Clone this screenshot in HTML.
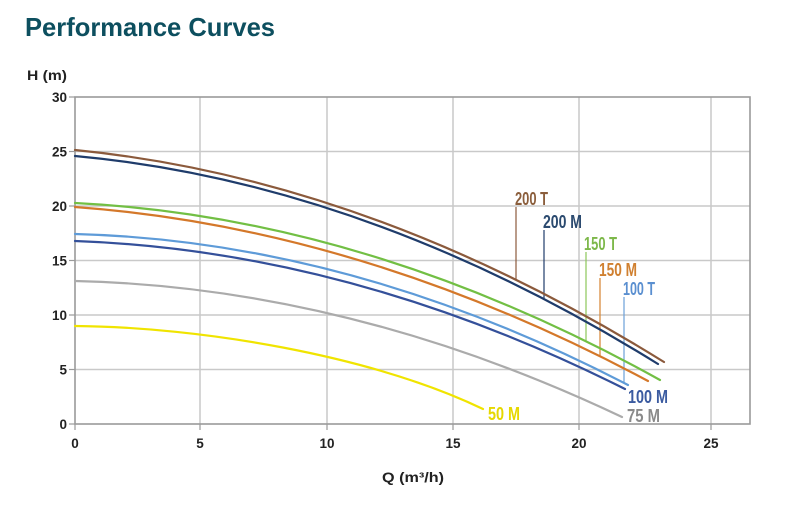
<!DOCTYPE html>
<html>
<head>
<meta charset="utf-8">
<style>
  html, body { margin:0; padding:0; background:#fff; }
  body { width:799px; height:531px; overflow:hidden; }
  svg { display:block; }
</style>
</head>
<body>
<svg width="799" height="531" viewBox="0 0 799 531" xmlns="http://www.w3.org/2000/svg">
  <rect x="0" y="0" width="799" height="531" fill="#ffffff"/>
  <!-- Title -->
  <text x="25" y="36" font-family="Liberation Sans, sans-serif" font-weight="bold" font-size="26" fill="#0D4F5F" textLength="250" lengthAdjust="spacingAndGlyphs">Performance Curves</text>

  <!-- Axis title H -->
  <text x="27" y="80" font-family="Liberation Sans, sans-serif" font-weight="bold" font-size="13.5" fill="#222" textLength="40" lengthAdjust="spacingAndGlyphs">H (m)</text>

  <!-- Gridlines -->
  <g stroke="#C9C9C9" stroke-width="1.5" fill="none">
    <line x1="200" y1="97" x2="200" y2="424"/>
    <line x1="327" y1="97" x2="327" y2="424"/>
    <line x1="453" y1="97" x2="453" y2="424"/>
    <line x1="579" y1="97" x2="579" y2="424"/>
    <line x1="711" y1="97" x2="711" y2="424"/>
    <line x1="75" y1="151.5" x2="750" y2="151.5"/>
    <line x1="75" y1="206" x2="750" y2="206"/>
    <line x1="75" y1="260.5" x2="750" y2="260.5"/>
    <line x1="75" y1="315" x2="750" y2="315"/>
    <line x1="75" y1="369.5" x2="750" y2="369.5"/>
  </g>

  <!-- Frame -->
  <rect x="75" y="97" width="675" height="327" fill="none" stroke="#9A9A9A" stroke-width="1.6"/>

  <!-- Tick marks -->
  <g stroke="#9A9A9A" stroke-width="1.2">
    <line x1="69" y1="97" x2="75" y2="97"/>
    <line x1="69" y1="151.5" x2="75" y2="151.5"/>
    <line x1="69" y1="206" x2="75" y2="206"/>
    <line x1="69" y1="260.5" x2="75" y2="260.5"/>
    <line x1="69" y1="315" x2="75" y2="315"/>
    <line x1="69" y1="369.5" x2="75" y2="369.5"/>
    <line x1="69" y1="424" x2="75" y2="424"/>
    <line x1="75" y1="424" x2="75" y2="430"/>
    <line x1="200" y1="424" x2="200" y2="430"/>
    <line x1="327" y1="424" x2="327" y2="430"/>
    <line x1="453" y1="424" x2="453" y2="430"/>
    <line x1="579" y1="424" x2="579" y2="430"/>
    <line x1="711" y1="424" x2="711" y2="430"/>
  </g>

  <!-- Y tick labels -->
  <g font-family="Liberation Sans, sans-serif" font-weight="bold" font-size="13.5" fill="#222" text-anchor="end">
    <text x="67" y="102">30</text>
    <text x="67" y="156.5">25</text>
    <text x="67" y="211">20</text>
    <text x="67" y="265.5">15</text>
    <text x="67" y="320">10</text>
    <text x="67" y="374.5">5</text>
    <text x="67" y="429">0</text>
  </g>
  <!-- X tick labels -->
  <g font-family="Liberation Sans, sans-serif" font-weight="bold" font-size="13.5" fill="#222" text-anchor="middle">
    <text x="75" y="448">0</text>
    <text x="200" y="448">5</text>
    <text x="327" y="448">10</text>
    <text x="453" y="448">15</text>
    <text x="579" y="448">20</text>
    <text x="711" y="448">25</text>
  </g>
  <text x="382" y="482" font-family="Liberation Sans, sans-serif" font-weight="bold" font-size="13.5" fill="#222" textLength="62" lengthAdjust="spacingAndGlyphs">Q (m³/h)</text>

  <!-- Leader lines -->
  <g stroke-width="1.2">
    <line x1="516" y1="207" x2="516" y2="280" stroke="#8B5A3C"/>
    <line x1="544" y1="230" x2="544" y2="299" stroke="#1F3C6B"/>
    <line x1="586" y1="252" x2="586" y2="341" stroke="#8CC65A"/>
    <line x1="600" y1="278" x2="600" y2="356" stroke="#D4822F"/>
    <line x1="624" y1="297" x2="624" y2="383" stroke="#6A9FD8"/>
  </g>

  <!-- Curves -->
  <g fill="none" stroke-width="2.2" stroke-linecap="round">
    <path d="M75,326 C200,327 370,355 483,409" stroke="#F0E400"/>
    <path d="M75,281 Q348.5,287.3 622,417" stroke="#ABABAB"/>
    <path d="M75,241 Q350,250.9 625,389" stroke="#34509A"/>
    <path d="M75,234 Q351.5,241.3 628,385" stroke="#5E9BD8"/>
    <path d="M75,207 Q361.5,228 648,381" stroke="#D4782A"/>
    <path d="M75,203 Q367.5,217.6 660,380" stroke="#72BF44"/>
    <path d="M75,156 Q366.5,182.8 658,364" stroke="#1F3C6B"/>
    <path d="M75,150 Q369.5,179 664,362" stroke="#8B5A3C"/>
  </g>

  <!-- Curve labels -->
  <g font-family="Liberation Sans, sans-serif" font-size="18" font-weight="bold">
    <text x="515" y="205" fill="#8B5E3C" textLength="33" lengthAdjust="spacingAndGlyphs">200 T</text>
    <text x="543" y="228" fill="#2B4A6F" textLength="39" lengthAdjust="spacingAndGlyphs">200 M</text>
    <text x="584" y="250" fill="#7DB84A" textLength="33" lengthAdjust="spacingAndGlyphs">150 T</text>
    <text x="599" y="276" fill="#D08030" textLength="38" lengthAdjust="spacingAndGlyphs">150 M</text>
    <text x="623" y="295" fill="#5A8FD0" textLength="32" lengthAdjust="spacingAndGlyphs">100 T</text>
    <text x="628" y="403" fill="#3B5BA0" textLength="40" lengthAdjust="spacingAndGlyphs">100 M</text>
    <text x="627" y="422" fill="#8A8A8A" textLength="33" lengthAdjust="spacingAndGlyphs">75 M</text>
    <text x="488" y="420" fill="#E6D800" textLength="32" lengthAdjust="spacingAndGlyphs">50 M</text>
  </g>
</svg>
</body>
</html>
